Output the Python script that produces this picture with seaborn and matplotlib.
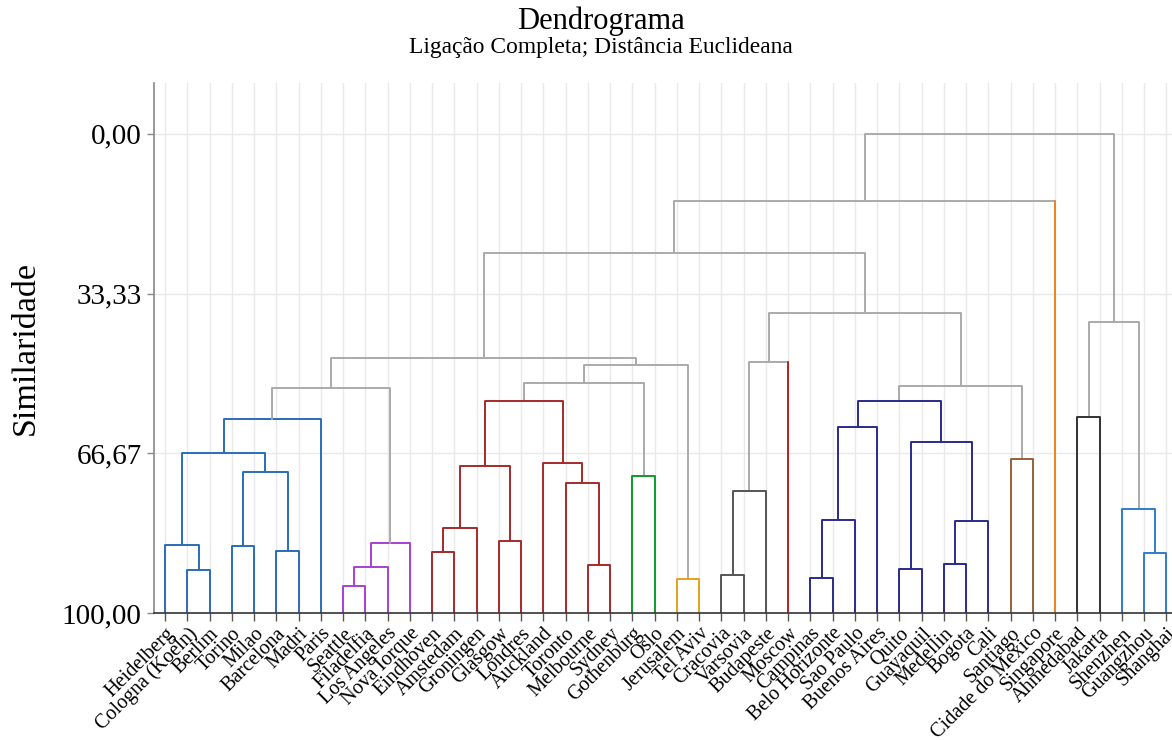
import numpy as np
import pandas as pd
import matplotlib
matplotlib.use("Agg")
import matplotlib.pyplot as plt
import seaborn as sns

# ---------------- data ----------------
labels = ["Heidelberg", "Cologna (Koeln)", "Berlim", "Torino", "Milao", "Barcelona",
          "Madri", "Paris", "Seattle", "Filadelfia", "Los Angeles", "Nova Iorque",
          "Eindhoven", "Amstedam", "Groningen", "Glasgow", "Londres", "Auckland",
          "Toronto", "Melbourne", "Sydney", "Gothenburg", "Oslo", "Jerusalem",
          "Tel Aviv", "Cracovia", "Varsovia", "Budapeste", "Moscow", "Campinas",
          "Belo Horizonte", "Sao Paulo", "Buenos Aires", "Quito", "Guayaquil",
          "Medellin", "Bogota", "Cali", "Santiago", "Cidade do Mexico", "Singapore",
          "Ahmedabad", "Jakarta", "Shenzhen", "Guangzhou", "Shanghai"]

# merges: node id = len(labels) + row index
merge_left = [1, 0, 3, 5, 48, 47, 51, 8, 53, 54, 52, 12, 57, 15, 58, 19, 18, 17, 60,
              21, 64, 23, 66, 56, 25, 70, 71, 29, 73, 74, 33, 35, 77, 76, 75, 38, 80,
              72, 69, 84, 41, 44, 43, 86, 85]
merge_right = [2, 46, 4, 6, 49, 50, 7, 9, 10, 11, 55, 13, 14, 16, 59, 20, 61, 62, 63,
               22, 65, 24, 67, 68, 26, 27, 28, 30, 31, 32, 34, 36, 37, 78, 79, 39, 81,
               82, 83, 40, 42, 45, 87, 88, 89]
merge_sim = [91.0, 85.9, 86.1, 87.1, 70.5, 66.7, 59.6, 94.4, 90.3, 85.3, 53.0, 87.3,
             82.2, 84.9, 69.4, 90.0, 72.9, 68.8, 55.7, 71.4, 52.1, 93.0, 48.3, 46.8,
             92.1, 74.5, 47.6, 92.8, 80.6, 61.2, 90.9, 89.8, 80.9, 64.4, 55.8, 67.8,
             52.7, 37.4, 24.8, 14.0, 59.2, 87.4, 78.2, 39.2, 0.0]

ytick_values = [0.0, 33.33, 66.67, 100.0]
ytick_labels = ["0,00", "33,33", "66,67", "100,00"]

# cluster roots and their colours
cluster_roots = [52, 55, 64, 28, 65, 67, 71, 80, 81, 40, 86, 88]
cluster_colors = ["#2b6db8", "#a83fd2", "#a52a2a", "#b22222", "#0f9a2a", "#e3a21f",
                  "#555555", "#2a2a8c", "#97613a", "#ec821c", "#333333", "#2f7ccf"]
GRAY = "#aaaaaa"

# ---------------- layout computation ----------------
n = len(labels)
xpos = {i: float(i) for i in range(n)}
hpos = {i: 100.0 for i in range(n)}
children = {}
for k, (l, r, s) in enumerate(zip(merge_left, merge_right, merge_sim)):
    node = n + k
    children[node] = (l, r)
    xpos[node] = (xpos[l] + xpos[r]) / 2
    hpos[node] = s

node_color = {}
def paint(node, col):
    node_color[node] = col
    if node in children:
        for c in children[node]:
            paint(c, col)
for root, col in zip(cluster_roots, cluster_colors):
    paint(root, col)

rows = []
unit = 0
for node, (l, r) in children.items():
    if node in node_color:
        cm = node_color[node]
        cl = cr = cm
    else:
        cm = GRAY
        cl = node_color[l] if (l < n and l in node_color) else GRAY
        cr = node_color[r] if (r < n and r in node_color) else GRAY
    pts_l = [(xpos[l], hpos[l]), (xpos[l], hpos[node])]
    pts_h = [(xpos[l], hpos[node]), (xpos[r], hpos[node])]
    pts_r = [(xpos[r], hpos[node]), (xpos[r], hpos[r])]
    segs = [(cl, pts_l), (cm, pts_h), (cr, pts_r)]
    groups = []
    for col, pts in segs:
        if groups and groups[-1][0] == col:
            groups[-1][1].extend(pts[1:])
        else:
            groups.append([col, list(pts)])
    for col, pts in groups:
        for j, (xx, yy) in enumerate(pts):
            rows.append(dict(unit=unit, order=j, x=xx, y=yy, color=col))
        unit += 1
df = pd.DataFrame(rows)

# ---------------- plotting ----------------
sns.set_theme(style="whitegrid")
plt.rcParams["font.family"] = ["Liberation Serif", "DejaVu Serif"]

fig = plt.figure(figsize=(11.72, 7.40), dpi=100)
ax = fig.add_axes([154 / 1172, 1 - 613 / 740, 1 - 154 / 1172, (613 - 83) / 740])

palette = {c: c for c in df["color"].unique()}
sns.lineplot(data=df, x="x", y="y", units="unit", estimator=None, hue="color",
             palette=palette, sort=False, legend=False, linewidth=1.4, ax=ax)

ax.set_xlim(-0.5, 45.25)
ax.set_ylim(100, -10.6)
ax.set_xticks(range(n))
ax.set_xticklabels(labels, rotation=45, ha="right", rotation_mode="anchor",
                   fontsize=14.5, color="black")
ax.set_yticks(ytick_values)
ax.set_yticklabels(ytick_labels, fontsize=21, color="black")
ax.tick_params(axis="x", which="both", direction="out", length=6, width=1,
               color="#555555", pad=2, bottom=True)
ax.tick_params(axis="y", which="both", direction="out", length=5, width=1,
               color="#888888", pad=4, left=True)
ax.grid(True, color="#e9e9e9", linewidth=1)
ax.set_axisbelow(True)
ax.set_facecolor("white")
for s in ["top", "right"]:
    ax.spines[s].set_visible(False)
ax.spines["left"].set_color("#888888")
ax.spines["left"].set_linewidth(1.2)
ax.spines["bottom"].set_color("#333333")
ax.spines["bottom"].set_linewidth(1.2)
ax.set_xlabel("")
ax.set_ylabel("Similaridade", fontsize=24.5, color="black", labelpad=15)

fig.text(601 / 1172, 1 - 29 / 740, "Dendrograma", ha="center", va="baseline",
         fontsize=22, color="black")
fig.text(601 / 1172, 1 - 53 / 740, "Ligação Completa; Distância Euclideana",
         ha="center", va="baseline", fontsize=16.9, color="black")

fig.savefig("out.png", dpi=100, facecolor="white")
